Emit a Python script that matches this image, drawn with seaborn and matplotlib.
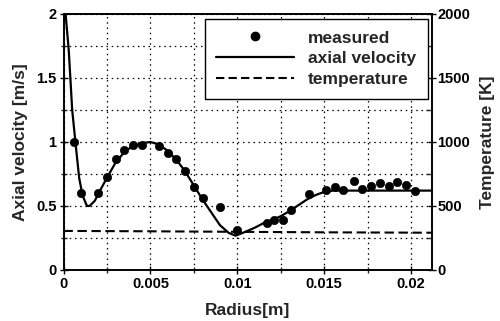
import numpy as np
import pandas as pd
import matplotlib
matplotlib.use("Agg")
import matplotlib.pyplot as plt
from matplotlib.ticker import MultipleLocator, FormatStrFormatter
from matplotlib.lines import Line2D
import seaborn as sns

# measured axial velocity
meas_r = [0.0006, 0.0010, 0.0020, 0.0025, 0.0030, 0.0035, 0.0040, 0.0045,
          0.0055, 0.0060, 0.0065, 0.0070, 0.0075, 0.0080, 0.0090, 0.0100,
          0.0117, 0.0121, 0.0126, 0.0131, 0.0141, 0.0151, 0.0156, 0.0161,
          0.0167, 0.0172, 0.0177, 0.0182, 0.0187, 0.0192, 0.0197, 0.0202]
meas_v = [1.00, 0.60, 0.60, 0.73, 0.87, 0.94, 0.98, 0.98,
          0.97, 0.91, 0.87, 0.77, 0.65, 0.56, 0.49, 0.31,
          0.37, 0.39, 0.39, 0.47, 0.59, 0.625, 0.645, 0.625,
          0.695, 0.633, 0.656, 0.677, 0.656, 0.685, 0.664, 0.62]

# computed axial velocity
vel_r = [0.00012, 0.0003, 0.0005, 0.0007, 0.0009, 0.0011, 0.00135, 0.0015,
         0.0018, 0.0021, 0.0025, 0.0030, 0.0035, 0.0040, 0.0045, 0.0050,
         0.0055, 0.0060, 0.0065, 0.0070, 0.0075, 0.0080, 0.0085, 0.0090,
         0.0095, 0.0099, 0.0105, 0.0110, 0.0115, 0.0120, 0.0125, 0.0130,
         0.0135, 0.0140, 0.0145, 0.0150, 0.0155, 0.0212]
vel_v = [2.00, 1.72, 1.25, 0.98, 0.72, 0.58, 0.50, 0.50,
         0.54, 0.62, 0.72, 0.84, 0.92, 0.97, 0.99, 1.00,
         0.98, 0.93, 0.86, 0.77, 0.66, 0.55, 0.45, 0.35,
         0.29, 0.268, 0.30, 0.33, 0.365, 0.39, 0.42, 0.46,
         0.505, 0.55, 0.585, 0.61, 0.62, 0.62]

# temperature
temp_r = [0.0, 0.005, 0.010, 0.015, 0.0212]
temp_T = [305, 302, 298, 294, 291]

x_ticks = [0, 0.005, 0.01, 0.015, 0.02]
y_ticks = [0, 0.5, 1, 1.5, 2]
t_ticks = [0, 500, 1000, 1500, 2000]

sns.set_style("white")
plt.rcParams['font.family'] = ['Liberation Sans', 'DejaVu Sans']
plt.rcParams['font.weight'] = 'bold'
plt.rcParams['axes.labelweight'] = 'bold'

fig = plt.figure(figsize=(5.0, 3.21), dpi=100)
ax = fig.add_axes([0.127, 0.159, 0.737, 0.7975])

sns.lineplot(x=vel_r, y=vel_v, ax=ax, color='black', lw=1.6, sort=False)
sns.scatterplot(x=meas_r, y=meas_v, ax=ax, color='black', s=36, edgecolor='black', zorder=5)

ax.set_xlim(0, 0.0212)
ax.set_ylim(0, 2)
ax.set_xticks(x_ticks)
ax.set_yticks(y_ticks)
ax.xaxis.set_major_formatter(FormatStrFormatter('%g'))
ax.yaxis.set_major_formatter(FormatStrFormatter('%g'))
ax.xaxis.set_minor_locator(MultipleLocator(0.0025))
ax.yaxis.set_minor_locator(MultipleLocator(0.25))
gridstyle = dict(color='black', linestyle=(0, (1.2, 3.0)), linewidth=0.9)
ax.grid(True, which='both', **gridstyle)
ax.tick_params(which='major', direction='inout', length=6, width=1, labelsize=10.5, colors='black', pad=2)
ax.tick_params(which='minor', direction='inout', length=4, width=1)
ax.tick_params(axis='y', which='both', left=True, right=False)
ax.tick_params(axis='x', which='both', bottom=True, top=False)
for s in ax.spines.values():
    s.set_color('black'); s.set_linewidth(1.2)
ax.set_xlabel('Radius[m]', fontsize=12.5, labelpad=9)
ax.set_ylabel('Axial velocity [m/s]', fontsize=12.5, labelpad=6)

ax2 = ax.twinx()
sns.lineplot(x=temp_r, y=temp_T, ax=ax2, color='black', lw=1.5, sort=False)
ax2.lines[0].set_linestyle((0, (4.5, 2.2)))
ax2.set_ylim(0, 2000)
ax2.set_yticks(t_ticks)
ax2.yaxis.set_minor_locator(MultipleLocator(250))
ax2.tick_params(which='major', direction='inout', length=6, width=1, labelsize=10.5, colors='black', pad=1)
ax2.tick_params(which='minor', direction='in', length=4, width=1)
ax2.set_ylabel('Temperature [K]', fontsize=12.5, labelpad=7)
ax2.grid(False)
for s in ax2.spines.values():
    s.set_color('black'); s.set_linewidth(1.2)

handles = [
    Line2D([], [], color='black', marker='o', linestyle='none', markersize=6),
    Line2D([], [], color='black', lw=1.6),
    Line2D([], [], color='black', lw=1.5, linestyle=(0, (4.0, 2.0))),
]
labels = ['measured', 'axial velocity', 'temperature']
leg = ax2.legend(handles, labels, loc='upper right', bbox_to_anchor=(0.988, 0.98),
                 frameon=True, fancybox=False, framealpha=1, edgecolor='black',
                 prop={'size': 12.5, 'weight': 'bold'}, handlelength=4.5, handletextpad=0.8,
                 labelspacing=0.33, borderpad=0.65, borderaxespad=0)
leg.get_frame().set_linewidth(1.0)

fig.savefig('out.png', dpi=100)
